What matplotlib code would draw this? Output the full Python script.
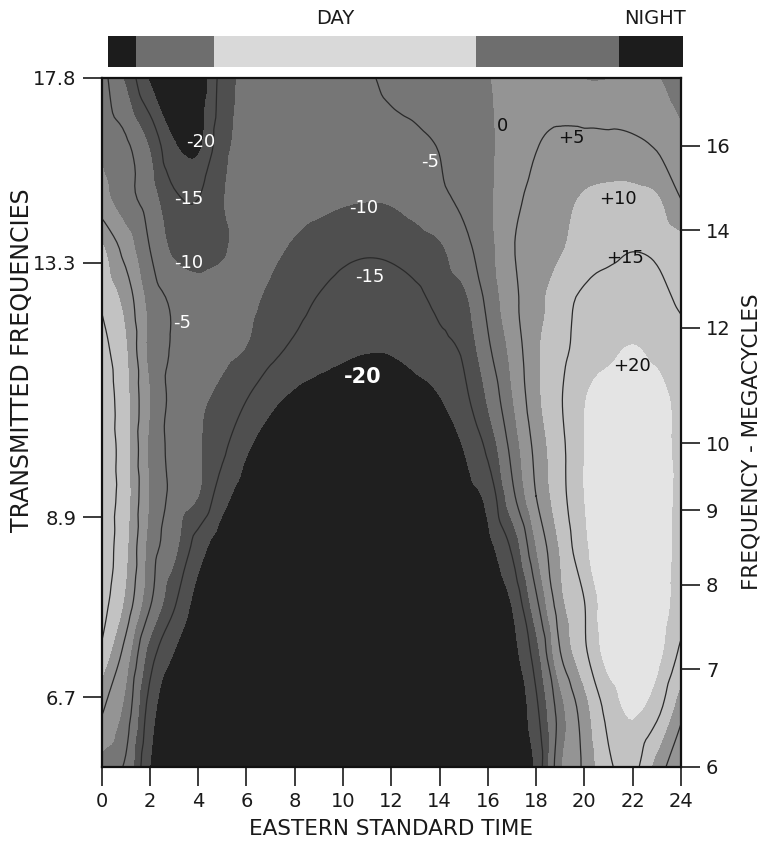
import numpy as np
import matplotlib
matplotlib.use("Agg")
import matplotlib.pyplot as plt
import matplotlib.tri as mtri
from matplotlib.ticker import NullLocator, FixedLocator, FixedFormatter

# ---------------- data ----------------
hours = list(range(25))  # Eastern Standard Time, 0..24
freqs = [6.0, 6.6, 7.2, 7.8, 8.5, 9.2, 9.9, 10.7, 11.6, 12.6, 13.6, 14.7, 16.0, 17.9]  # MHz

# relative field strength (dB) per frequency row, hours 0..24
row_6_0 = [-2, -6, -20, -25, -25, -25, -25, -25, -25, -25, -25, -25, -25, -25, -25, -25, -25, -25, -19, -1, 6, 14, 16.5, 8, 0]
row_6_6 = [6, -1.5, -17, -25, -25, -25, -25, -25, -25, -25, -25, -25, -25, -25, -25, -25, -25, -25, -16, -2, 8, 17, 21, 17, 7]
row_7_2 = [14, 3, -12, -20, -25, -25, -25, -25, -25, -25, -25, -25, -25, -25, -25, -25, -25, -22, -12, 5, 14, 22, 23.5, 21.5, 14]
row_7_8 = [17.5, 9, -4, -14, -22, -24.5, -25, -25, -25, -25, -25, -25, -25, -25, -25, -25, -24, -19.5, -6, 8.5, 15, 23, 23, 22.5, 17.5]
row_8_5 = [18.5, 11, -2, -8.5, -17.5, -23, -24.5, -25, -25, -25, -25, -25, -25, -25, -25, -24, -21.5, -14, 0, 10.5, 19, 22.5, 23, 22, 18.5]
row_9_2 = [18.5, 12, -0.5, -6.5, -10, -18, -22.5, -24, -25, -25, -25, -25, -25, -25, -24, -22, -18.5, -6.5, 5, 13, 20, 23, 23.5, 22.5, 18.5]
row_9_9 = [18.5, 12, -1, -6.5, -9.5, -14, -19.5, -22, -23, -23.5, -24, -24, -24, -23.5, -22.5, -20, -14, -3.5, 6.5, 13.5, 20, 22.5, 23, 22, 18.5]
row_10_7 = [18.5, 11.5, 0, -6.5, -9, -11.5, -15, -19, -21, -22, -22.5, -22.5, -22.3, -21.5, -20.3, -16.5, -9.5, -0.5, 8.5, 14.5, 19.8, 21.5, 22, 21.5, 18.5]
row_11_6 = [17, 10.5, -1.5, -5.5, -7, -8.8, -10.2, -13.5, -16, -18, -19.2, -19.8, -19.7, -18.6, -16.5, -14, -6, 1.5, 9, 13.5, 17, 19.2, 20.2, 19, 17]
row_12_6 = [14, 8, -2, -6, -8, -8.5, -9, -10.8, -13, -15.2, -17, -18, -17.5, -16, -13.5, -11, -3.5, 3.5, 8, 13, 15.8, 17, 17.5, 16.5, 14]
row_13_6 = [11, 3, -5, -11, -12.5, -10.5, -8.5, -9.2, -10.5, -12, -13.5, -14.2, -13.8, -12.5, -10.8, -6.5, -2, 4.5, 7, 9.5, 12, 13.8, 14.8, 14, 12]
row_14_7 = [2, -3, -7.5, -14, -15, -10.3, -8.5, -8.5, -8.7, -9, -9.5, -9.8, -9.5, -8, -6, -4, -1, 3.5, 6.5, 8.5, 10.5, 11.3, 11.5, 10.5, 5]
row_16_0 = [-1, -4, -10.5, -19.5, -21, -11.5, -9, -8.7, -8.5, -8, -7.5, -7, -6.5, -5.8, -4.8, -3, -0.8, 2, 4.8, 6, 6.5, 6.5, 6, 4.5, 1.5]
row_17_9 = [-3, -11, -21, -25, -24, -13, -9, -8.5, -8, -7.5, -7, -5.5, -4, -3.2, -2.5, -1.5, -0.2, 1.5, 2.5, 1.5, -0.5, -0.5, 0.5, 0, -3]

shade_levels = [-60, -20, -10, 0, 10, 20, 60]
shade_colors = ["#1f1f1f", "#4f4f4f", "#767676", "#949494", "#c2c2c2", "#e4e4e4"]
line_levels = [-15, -5, 5, 15]

left_ticks = [6.7, 8.9, 13.3, 17.8]
left_labels = ["6.7", "8.9", "13.3", "17.8"]
right_ticks = [6, 7, 8, 9, 10, 12, 14, 16]
right_labels = ["6", "7", "8", "9", "10", "12", "14", "16"]
x_ticks = list(range(0, 25, 2))

# contour labels: text, hour, MHz, colour
label_texts = ["-20", "-15", "-10", "-5", "-10", "-15", "-20", "-5", "0", "+5", "+10", "+15", "+20"]
label_hours = [4.1, 3.6, 3.6, 3.35, 10.85, 11.1, 10.8, 13.6, 16.6, 19.45, 21.4, 21.7, 21.95]
label_freqs = [16.1, 14.7, 13.3, 12.1, 14.5, 13.0, 11.1, 15.6, 16.5, 16.2, 14.7, 13.4, 11.3]
label_colors = ["white"] * 8 + ["#111111"] * 5

# day / night bar (hours)
bar_starts = [0, 1.17, 4.42, 15.36, 21.33]
bar_ends = [1.17, 4.42, 15.36, 21.33, 24]
bar_colors = ["#1c1c1c", "#6e6e6e", "#d9d9d9", "#6e6e6e", "#1c1c1c"]

# ---------------- figure ----------------
W, H = 766, 843
fig = plt.figure(figsize=(W / 100, H / 100), dpi=100)
fig.patch.set_facecolor("white")

L, R, T, B = 101.5, 681, 78, 767
ax = fig.add_axes([L / W, 1 - B / H, (R - L) / W, (B - T) / H])

Z = np.array([row_6_0, row_6_6, row_7_2, row_7_8, row_8_5, row_9_2, row_9_9,
              row_10_7, row_11_6, row_12_6, row_13_6, row_14_7, row_16_0, row_17_9])
HH, FF = np.meshgrid(np.array(hours, float), np.array(freqs, float))

# triangulate in screen-like proportions (hour, scaled log-frequency), refine smoothly
k = ((B - T) / np.log10(17.8 / 6.0)) / ((R - L) / 24.0)
tri0 = mtri.Triangulation(HH.ravel(), k * np.log10(FF.ravel()))
interp = mtri.CubicTriInterpolator(tri0, Z.ravel(), kind="geom")
refiner = mtri.UniformTriRefiner(tri0)
tri_r, z_r = refiner.refine_field(Z.ravel(), triinterpolator=interp, subdiv=3)
tri_f = mtri.Triangulation(tri_r.x, 10 ** (tri_r.y / k), triangles=tri_r.triangles)

ax.set_yscale("log")
ax.tricontourf(tri_f, z_r, levels=shade_levels, colors=shade_colors)
ax.tricontour(tri_f, z_r, levels=line_levels, colors="#2a2a2a", linewidths=0.9,
              linestyles="solid")

ax.set_xlim(0, 24)
ax.set_ylim(6.0, 17.8)

for s in ax.spines.values():
    s.set_linewidth(1.6)
    s.set_color("#111111")

ax.set_xticks(x_ticks)
ax.set_xticklabels([str(t) for t in x_ticks])
ax.yaxis.set_major_locator(FixedLocator(left_ticks))
ax.yaxis.set_major_formatter(FixedFormatter(left_labels))
ax.yaxis.set_minor_locator(NullLocator())
ax.xaxis.set_minor_locator(NullLocator())
ax.tick_params(axis="both", which="major", direction="out", length=14, width=1.2,
               labelsize=14, colors="#1a1a1a", pad=4)

ax2 = ax.twinx()
ax2.set_yscale("log")
ax2.set_ylim(6.0, 17.8)
ax2.yaxis.set_major_locator(FixedLocator(right_ticks))
ax2.yaxis.set_major_formatter(FixedFormatter(right_labels))
ax2.yaxis.set_minor_locator(NullLocator())
ax2.tick_params(axis="y", which="major", direction="out", length=14, width=1.2,
                labelsize=14, colors="#1a1a1a", pad=4)
for s in ax2.spines.values():
    s.set_visible(False)

ax.set_xlabel("EASTERN STANDARD TIME", fontsize=15.5, color="#1a1a1a", labelpad=6)
fig.text(22 / W, 1 - 360 / H, "TRANSMITTED FREQUENCIES", rotation=90, fontsize=17,
         color="#1a1a1a", ha="center", va="center")
fig.text(752 / W, 1 - 442 / H, "FREQUENCY - MEGACYCLES", rotation=90, fontsize=15.5,
         color="#1a1a1a", ha="center", va="center")

for t, hx, fy, c in zip(label_texts, label_hours, label_freqs, label_colors):
    big = (t == "-20" and hx > 8)
    ax.text(hx, fy, t, color=c, fontsize=15 if big else 13,
            fontweight="bold" if big else "normal", ha="center", va="center")

# day / night strip
axb = fig.add_axes([108 / W, 1 - 67 / H, (683 - 108) / W, 31 / H])
axb.barh([0.5] * len(bar_starts), [e - s for s, e in zip(bar_starts, bar_ends)],
         left=bar_starts, height=1.0, color=bar_colors, edgecolor="none")
axb.set_xlim(0, 24)
axb.set_ylim(0, 1)
axb.axis("off")
fig.text(335 / W, 1 - 18 / H, "DAY", fontsize=14, color="#1a1a1a", ha="center", va="center")
fig.text(655 / W, 1 - 18 / H, "NIGHT", fontsize=14, color="#1a1a1a", ha="center", va="center")

fig.savefig("out.png", dpi=100, facecolor="white")
